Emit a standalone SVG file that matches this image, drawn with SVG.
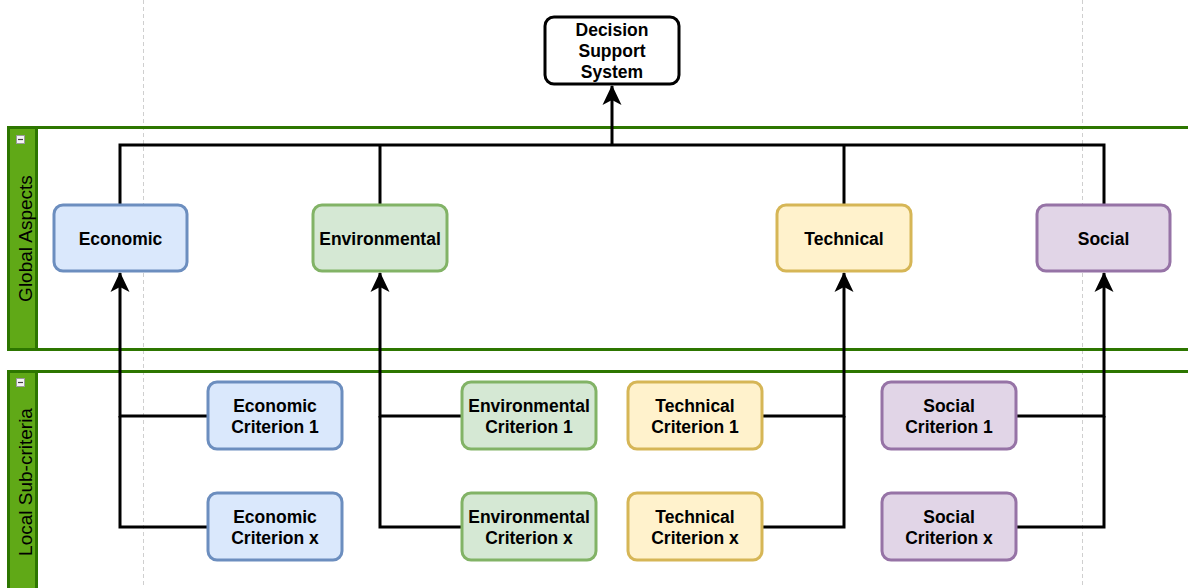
<svg xmlns="http://www.w3.org/2000/svg" width="1188" height="588" viewBox="0 0 1188 588">
  <style>
    .guide { stroke: #cfcfcf; stroke-width: 1; stroke-dasharray: 4 3; fill: none; }
    .lane { fill: none; stroke: #2d7600; stroke-width: 3; }
    .laneHead { fill: #60a917; stroke: #2d7600; stroke-width: 3; }
    .laneTitle { font-family: "Liberation Sans", Arial, sans-serif; font-size: 19px; fill: #000000; text-anchor: middle; dominant-baseline: central; }
    .node rect { stroke-width: 3; }
    .node text { font-family: "Liberation Sans", Arial, sans-serif; font-weight: bold; font-size: 17.5px; fill: #000000; text-anchor: middle; }
    .blue rect { fill: #dae8fc; stroke: #6c8ebf; }
    .green rect { fill: #d5e8d4; stroke: #82b366; }
    .yellow rect { fill: #fff2cc; stroke: #d6b656; }
    .purple rect { fill: #e1d5e7; stroke: #9673a6; }
    .plain rect { fill: #ffffff; stroke: #000000; }
    .edge { fill: none; stroke: #000000; stroke-width: 3; }
  </style>
  <defs>
    <marker id="arrow" viewBox="0 0 20 20" refX="19" refY="10" markerWidth="20" markerHeight="20" markerUnits="userSpaceOnUse" orient="auto">
      <path d="M0,0.5 L20,10 L0,19.5 L5,10 Z" fill="#000000"/>
    </marker>
    <g id="collapse">
      <rect x="-4" y="-4" width="8" height="8" fill="#f4f4f4" stroke="#9a9a9a" stroke-width="1"/>
      <line x1="-2.5" y1="0" x2="2.5" y2="0" stroke="#404040" stroke-width="1.2"/>
    </g>
  </defs>

  <rect width="1188" height="588" fill="#ffffff"/>

  <!-- page guides -->
  <line class="guide" x1="143.5" y1="0" x2="143.5" y2="588"/>
  <line class="guide" x1="1082.5" y1="0" x2="1082.5" y2="588"/>

  <!-- swimlanes -->
  <g id="lane-global">
    <rect class="lane" x="8.5" y="127.5" width="1190" height="222"/>
    <rect class="laneHead" x="8.5" y="127.5" width="28" height="222"/>
    <use href="#collapse" x="20.5" y="139.5"/>
    <text class="laneTitle" transform="translate(25,238.5) rotate(-90)">Global Aspects</text>
  </g>
  <g id="lane-local">
    <rect class="lane" x="8.5" y="371.5" width="1190" height="230"/>
    <rect class="laneHead" x="8.5" y="371.5" width="28" height="230"/>
    <use href="#collapse" x="20.5" y="382.5"/>
    <text class="laneTitle" transform="translate(25,482) rotate(-90)">Local Sub-criteria</text>
  </g>

  <!-- connectors -->
  <g id="connectors">
    <path class="edge" d="M120,205 V145 H1104 V205"/>
    <path class="edge" d="M380,205 V145"/>
    <path class="edge" d="M844,205 V145"/>
    <path class="edge" d="M612,145 V86" marker-end="url(#arrow)"/>

    <path class="edge" d="M208,416 H120 V273" marker-end="url(#arrow)"/>
    <path class="edge" d="M208,527 H120 V416"/>
    <path class="edge" d="M462,416 H380 V273" marker-end="url(#arrow)"/>
    <path class="edge" d="M462,527 H380 V416"/>
    <path class="edge" d="M762,416 H844 V273" marker-end="url(#arrow)"/>
    <path class="edge" d="M762,527 H844 V416"/>
    <path class="edge" d="M1016,416 H1104 V273" marker-end="url(#arrow)"/>
    <path class="edge" d="M1016,527 H1104 V416"/>
  </g>

  <!-- top node -->
  <g id="dss" class="node plain">
    <rect x="545" y="17" width="134" height="67" rx="9"/>
    <text x="612" y="36">Decision</text>
    <text x="612" y="57">Support</text>
    <text x="612" y="78">System</text>
  </g>

  <!-- global aspects -->
  <g id="economic" class="node blue">
    <rect x="54" y="205" width="133" height="66" rx="9"/>
    <text x="120.5" y="244.5">Economic</text>
  </g>
  <g id="environmental" class="node green">
    <rect x="313" y="205" width="134" height="66" rx="9"/>
    <text x="380" y="244.5">Environmental</text>
  </g>
  <g id="technical" class="node yellow">
    <rect x="777" y="205" width="134" height="66" rx="9"/>
    <text x="844" y="244.5">Technical</text>
  </g>
  <g id="social" class="node purple">
    <rect x="1037" y="205" width="133" height="66" rx="9"/>
    <text x="1103.5" y="244.5">Social</text>
  </g>

  <!-- local sub-criteria -->
  <g id="eco-c1" class="node blue">
    <rect x="208" y="382" width="134" height="67" rx="9"/>
    <text x="275" y="412">Economic</text>
    <text x="275" y="433">Criterion 1</text>
  </g>
  <g id="eco-cx" class="node blue">
    <rect x="208" y="493" width="134" height="67" rx="9"/>
    <text x="275" y="523">Economic</text>
    <text x="275" y="544">Criterion x</text>
  </g>
  <g id="env-c1" class="node green">
    <rect x="462" y="382" width="134" height="67" rx="9"/>
    <text x="529" y="412">Environmental</text>
    <text x="529" y="433">Criterion 1</text>
  </g>
  <g id="env-cx" class="node green">
    <rect x="462" y="493" width="134" height="67" rx="9"/>
    <text x="529" y="523">Environmental</text>
    <text x="529" y="544">Criterion x</text>
  </g>
  <g id="tec-c1" class="node yellow">
    <rect x="628" y="382" width="134" height="67" rx="9"/>
    <text x="695" y="412">Technical</text>
    <text x="695" y="433">Criterion 1</text>
  </g>
  <g id="tec-cx" class="node yellow">
    <rect x="628" y="493" width="134" height="67" rx="9"/>
    <text x="695" y="523">Technical</text>
    <text x="695" y="544">Criterion x</text>
  </g>
  <g id="soc-c1" class="node purple">
    <rect x="882" y="382" width="134" height="67" rx="9"/>
    <text x="949" y="412">Social</text>
    <text x="949" y="433">Criterion 1</text>
  </g>
  <g id="soc-cx" class="node purple">
    <rect x="882" y="493" width="134" height="67" rx="9"/>
    <text x="949" y="523">Social</text>
    <text x="949" y="544">Criterion x</text>
  </g>
</svg>
